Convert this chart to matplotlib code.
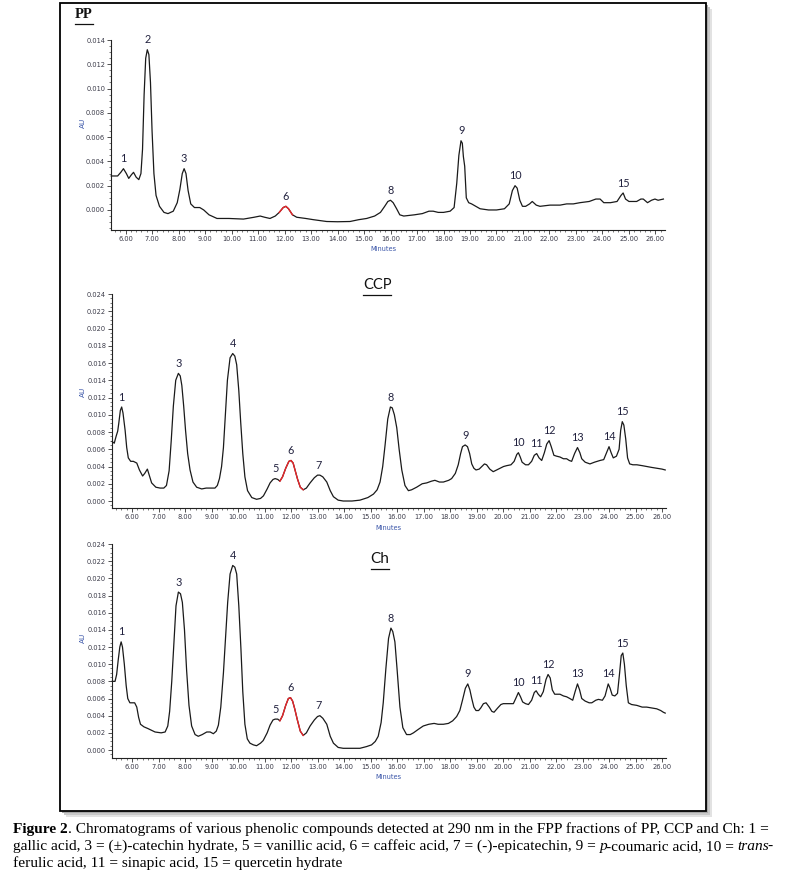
import matplotlib
matplotlib.use("Agg")
import matplotlib.pyplot as plt
import numpy as np
from matplotlib.patches import Rectangle
from matplotlib.lines import Line2D
from matplotlib.ticker import MultipleLocator, FormatStrFormatter

# ---------------- data ----------------
pp_time = [5.46, 5.70, 5.82, 5.92, 6.03, 6.12, 6.22, 6.30, 6.40, 6.50, 6.58, 6.64, 6.70, 6.76,
           6.82, 6.88, 6.94, 7.00, 7.07, 7.15, 7.28, 7.45, 7.60, 7.80, 7.95, 8.05, 8.14, 8.21,
           8.28, 8.36, 8.46, 8.60, 8.80, 8.95, 9.15, 9.45, 9.90, 10.45, 10.85, 11.08, 11.25,
           11.45, 11.65, 11.80, 11.95, 12.05, 12.15, 12.30, 12.46, 12.80, 13.09, 13.59, 14.00,
           14.47, 14.80, 15.10, 15.40, 15.62, 15.78, 15.90, 16.00, 16.10, 16.23, 16.35, 16.50,
           16.90, 17.20, 17.45, 17.61, 17.80, 18.00, 18.25, 18.40, 18.50, 18.58, 18.66, 18.71,
           18.75, 18.80, 18.86, 18.95, 19.06, 19.38, 19.70, 20.00, 20.30, 20.48, 20.60, 20.70,
           20.78, 20.88, 20.98, 21.10, 21.25, 21.35, 21.50, 21.64, 22.02, 22.40, 22.65, 22.90,
           23.15, 23.50, 23.75, 23.91, 24.05, 24.30, 24.55, 24.70, 24.78, 24.87, 25.00, 25.29,
           25.45, 25.54, 25.70, 25.85, 25.98, 26.10, 26.30]
pp_au = [0.0028, 0.0028, 0.0031, 0.0034, 0.0030, 0.0026, 0.0029, 0.0031, 0.0027, 0.0025, 0.0030,
         0.0050, 0.0095, 0.0125, 0.0132, 0.0128, 0.0105, 0.0065, 0.0030, 0.0012, 0.0003, -0.0002,
         -0.0003, -0.0001, 0.0006, 0.0017, 0.0030, 0.0034, 0.0030, 0.0016, 0.0005, 0.0002, 0.0002,
         0.0000, -0.0004, -0.0007, -0.0007, -0.00075, -0.0006, -0.0005, -0.0006, -0.0007, -0.0005,
         -0.0002, 0.0002, 0.0003, 0.0001, -0.0004, -0.0006, -0.0007, -0.0008, -0.00095, -0.00097,
         -0.00095, -0.0008, -0.0007, -0.0005, -0.0002, 0.0003, 0.0007, 0.0008, 0.0006, 0.0001,
         -0.0004, -0.0005, -0.0004, -0.0003, -0.0001, -0.0001, -0.0002, -0.0002, -0.0001, 0.0002,
         0.0022, 0.0045, 0.0057, 0.0055, 0.0044, 0.0036, 0.0010, 0.0006, 0.0005, 0.0001, 0.0000,
         0.0000, 0.0001, 0.0005, 0.0016, 0.0020, 0.0018, 0.0008, 0.0003, 0.0003, 0.0005, 0.0007,
         0.0004, 0.0003, 0.0004, 0.0004, 0.0005, 0.0005, 0.0006, 0.0007, 0.0009, 0.0009, 0.0006,
         0.0006, 0.0007, 0.0012, 0.0014, 0.0009, 0.0007, 0.0007, 0.0009, 0.0009, 0.0006, 0.0008,
         0.0009, 0.0008, 0.0009]

ccp_time = [5.25, 5.33, 5.40, 5.46, 5.50, 5.56, 5.61, 5.66, 5.74, 5.80, 5.86, 5.95, 6.05, 6.18,
            6.28, 6.40, 6.48, 6.58, 6.66, 6.74, 6.90, 7.06, 7.20, 7.30, 7.40, 7.48, 7.56, 7.65,
            7.75, 7.82, 7.88, 7.95, 8.02, 8.10, 8.19, 8.30, 8.44, 8.63, 8.80, 9.00, 9.13, 9.22,
            9.30, 9.38, 9.45, 9.52, 9.60, 9.70, 9.80, 9.88, 9.95, 10.03, 10.10, 10.18, 10.26,
            10.36, 10.52, 10.70, 10.85, 10.96, 11.10, 11.21, 11.32, 11.40, 11.50, 11.58, 11.68,
            11.80, 11.92, 12.00, 12.08, 12.15, 12.25, 12.35, 12.46, 12.58, 12.72, 12.88, 13.00,
            13.09, 13.20, 13.35, 13.48, 13.60, 13.78, 13.97, 14.30, 14.60, 14.90, 15.11, 15.25,
            15.36, 15.46, 15.55, 15.65, 15.75, 15.82, 15.90, 15.99, 16.08, 16.18, 16.30, 16.43,
            16.55, 16.74, 16.95, 17.12, 17.30, 17.43, 17.60, 17.75, 17.95, 18.06, 18.20, 18.31,
            18.40, 18.47, 18.57, 18.66, 18.74, 18.82, 18.90, 18.98, 19.10, 19.20, 19.30, 19.38,
            19.50, 19.63, 19.76, 19.89, 20.02, 20.14, 20.30, 20.42, 20.52, 20.58, 20.65, 20.72,
            20.85, 20.96, 21.08, 21.18, 21.27, 21.36, 21.46, 21.56, 21.65, 21.74, 21.82, 21.92,
            22.02, 22.15, 22.28, 22.40, 22.50, 22.59, 22.70, 22.81, 22.90, 22.97, 23.10, 23.28,
            23.45, 23.66, 23.80, 23.88, 24.00, 24.08, 24.16, 24.28, 24.38, 24.44, 24.50, 24.56,
            24.63, 24.70, 24.78, 24.90, 25.05, 25.25, 25.42, 25.60, 25.80, 26.00, 26.12]
ccp_au = [0.0069, 0.0067, 0.0075, 0.0081, 0.0090, 0.0105, 0.0109, 0.0102, 0.0082, 0.0062, 0.0050,
          0.0046, 0.0046, 0.0044, 0.0036, 0.0029, 0.0032, 0.0037, 0.0029, 0.0021, 0.0016, 0.0015,
          0.0015, 0.0018, 0.0035, 0.0070, 0.0110, 0.0140, 0.0148, 0.0145, 0.0134, 0.0110, 0.0082,
          0.0055, 0.0036, 0.0022, 0.0016, 0.0014, 0.0015, 0.0015, 0.0015, 0.0018, 0.0026, 0.0040,
          0.0062, 0.0098, 0.0140, 0.0166, 0.0171, 0.0168, 0.0158, 0.0128, 0.0092, 0.0055, 0.0028,
          0.0012, 0.0004, 0.0002, 0.0003, 0.0006, 0.0014, 0.0021, 0.0025, 0.0026, 0.0025, 0.0023,
          0.0028, 0.0038, 0.0046, 0.0047, 0.0044, 0.0036, 0.0025, 0.0016, 0.0013, 0.0015, 0.0021,
          0.0027, 0.0030, 0.0030, 0.0028, 0.0022, 0.0012, 0.0005, 0.0001, 0.0000, 0.0000, 0.0001,
          0.0004, 0.0008, 0.0013, 0.0022, 0.0040, 0.0065, 0.0095, 0.0109, 0.0108, 0.0100, 0.0085,
          0.0060, 0.0036, 0.0018, 0.0012, 0.0013, 0.0016, 0.0020, 0.0021, 0.0023, 0.0024, 0.0022,
          0.0022, 0.0024, 0.0026, 0.0032, 0.0042, 0.0055, 0.0063, 0.0065, 0.0063, 0.0055, 0.0043,
          0.0038, 0.0036, 0.0037, 0.0040, 0.0043, 0.0042, 0.0037, 0.0034, 0.0036, 0.0038, 0.0040,
          0.0041, 0.0042, 0.0046, 0.0054, 0.0056, 0.0051, 0.0045, 0.0042, 0.0042, 0.0046, 0.0053,
          0.0055, 0.0050, 0.0047, 0.0056, 0.0066, 0.0070, 0.0063, 0.0053, 0.0052, 0.0051, 0.0049,
          0.0049, 0.0047, 0.0046, 0.0055, 0.0062, 0.0056, 0.0049, 0.0045, 0.0043, 0.0045, 0.0047,
          0.0048, 0.0054, 0.0063, 0.0056, 0.0050, 0.0052, 0.0060, 0.0082, 0.0092, 0.0088, 0.0072,
          0.0050, 0.0043, 0.0042, 0.0042, 0.0041, 0.0040, 0.0039, 0.0038, 0.0037, 0.0036]

ch_time = [5.25, 5.36, 5.42, 5.48, 5.54, 5.59, 5.64, 5.71, 5.78, 5.84, 5.92, 6.00, 6.10, 6.18,
           6.25, 6.32, 6.45, 6.60, 6.87, 7.10, 7.25, 7.35, 7.42, 7.50, 7.58, 7.66, 7.75, 7.83,
           7.90, 7.98, 8.06, 8.15, 8.25, 8.38, 8.50, 8.65, 8.82, 8.95, 9.07, 9.18, 9.26, 9.35,
           9.45, 9.53, 9.61, 9.70, 9.80, 9.88, 9.95, 10.03, 10.11, 10.18, 10.26, 10.35, 10.45,
           10.58, 10.70, 10.85, 10.95, 11.10, 11.21, 11.32, 11.40, 11.50, 11.58, 11.68, 11.80,
           11.90, 11.98, 12.06, 12.14, 12.24, 12.35, 12.46, 12.58, 12.72, 12.88, 13.00, 13.09,
           13.20, 13.35, 13.48, 13.60, 13.78, 13.97, 14.30, 14.60, 14.85, 15.04, 15.18, 15.29,
           15.40, 15.48, 15.58, 15.68, 15.77, 15.84, 15.92, 16.00, 16.11, 16.22, 16.36, 16.50,
           16.62, 16.80, 16.99, 17.20, 17.40, 17.55, 17.75, 17.94, 18.10, 18.25, 18.37, 18.47,
           18.58, 18.67, 18.75, 18.82, 18.90, 18.98, 19.08, 19.16, 19.26, 19.36, 19.48, 19.58,
           19.66, 19.80, 19.92, 20.01, 20.20, 20.39, 20.48, 20.58, 20.66, 20.74, 20.85, 20.96,
           21.08, 21.18, 21.25, 21.33, 21.42, 21.52, 21.62, 21.70, 21.78, 21.86, 21.95, 22.05,
           22.15, 22.28, 22.40, 22.52, 22.63, 22.72, 22.81, 22.89, 22.97, 23.10, 23.25, 23.35,
           23.50, 23.60, 23.75, 23.85, 23.97, 24.04, 24.12, 24.22, 24.32, 24.40, 24.46, 24.52,
           24.58, 24.65, 24.73, 24.85, 25.05, 25.25, 25.42, 25.60, 25.80, 25.95, 26.05, 26.12]
ch_au = [0.0080, 0.0080, 0.0088, 0.0105, 0.0120, 0.0126, 0.0120, 0.0100, 0.0075, 0.0060, 0.0055,
         0.0055, 0.0055, 0.0050, 0.0038, 0.0030, 0.0027, 0.0025, 0.0021, 0.0020, 0.0021, 0.0028,
         0.0045, 0.0080, 0.0125, 0.0168, 0.0184, 0.0182, 0.0172, 0.0140, 0.0093, 0.0052, 0.0028,
         0.0018, 0.0016, 0.0018, 0.0021, 0.0021, 0.0019, 0.0022, 0.0029, 0.0050, 0.0090, 0.0130,
         0.0172, 0.0205, 0.0215, 0.0213, 0.0205, 0.0168, 0.0118, 0.0068, 0.0030, 0.0013, 0.0008,
         0.0006, 0.0005, 0.0008, 0.0011, 0.0020, 0.0029, 0.0035, 0.0036, 0.0036, 0.0034, 0.0040,
         0.0052, 0.0060, 0.0061, 0.0057, 0.0048, 0.0035, 0.0022, 0.0017, 0.0020, 0.0028, 0.0035,
         0.0039, 0.0040, 0.0037, 0.0030, 0.0016, 0.0008, 0.0003, 0.0002, 0.0002, 0.0002, 0.0004,
         0.0006, 0.0010, 0.0016, 0.0032, 0.0055, 0.0095, 0.0130, 0.0142, 0.0138, 0.0126, 0.0095,
         0.0050, 0.0026, 0.0018, 0.0018, 0.0020, 0.0024, 0.0028, 0.0030, 0.0031, 0.0030, 0.0030,
         0.0031, 0.0034, 0.0039, 0.0046, 0.0058, 0.0072, 0.0077, 0.0070, 0.0060, 0.0050, 0.0046,
         0.0046, 0.0049, 0.0054, 0.0055, 0.0050, 0.0045, 0.0044, 0.0049, 0.0053, 0.0054, 0.0054,
         0.0054, 0.0060, 0.0067, 0.0062, 0.0056, 0.0054, 0.0053, 0.0058, 0.0067, 0.0069, 0.0065,
         0.0062, 0.0068, 0.0082, 0.0088, 0.0084, 0.0070, 0.0065, 0.0065, 0.0065, 0.0063, 0.0062,
         0.0060, 0.0058, 0.0068, 0.0077, 0.0070, 0.0060, 0.0057, 0.0055, 0.0055, 0.0058, 0.0059,
         0.0058, 0.0063, 0.0077, 0.0072, 0.0064, 0.0063, 0.0066, 0.0090, 0.0110, 0.0113, 0.0100,
         0.0075, 0.0055, 0.0053, 0.0052, 0.0050, 0.0050, 0.0049, 0.0048, 0.0046, 0.0044, 0.0043]

pp_peak_labels = ['1', '2', '3', '6', '8', '9', '10', '15']
pp_peak_times = [5.92, 6.82, 8.21, 12.05, 16.00, 18.68, 20.70, 24.78]
ccp_peak_labels = ['1', '3', '4', '5', '6', '7', '8', '9', '10', '11', '12', '13', '14', '15']
ccp_peak_times = [5.61, 7.75, 9.80, 11.40, 12.00, 13.05, 15.77, 18.57, 20.58, 21.27, 21.74,
                  22.81, 24.00, 24.50]
ch_peak_labels = ['1', '3', '4', '5', '6', '7', '8', '9', '10', '11', '12', '13', '14', '15']
ch_peak_times = [5.59, 7.77, 9.82, 11.40, 11.98, 13.05, 15.77, 18.67, 20.58, 21.25, 21.70,
                 22.81, 23.97, 24.52]
# retention-time window of caffeic acid (peak 6), drawn in red
pp_red = (11.75, 12.35)
ccp_red = (11.58, 12.46)
ch_red = (11.58, 12.46)

panel_titles = ['PP', 'CCP', 'Ch']
x_label = 'Minutes'
y_label = 'AU'

caption_lines = [
    [("Figure 2", "b"), (". Chromatograms of various phenolic compounds detected at 290 nm in the "
                         "FPP fractions of PP, CCP and Ch: 1 =", "n")],
    [("gallic acid, 3 = (\u00b1)-catechin hydrate, 5 = vanillic acid, 6 = caffeic acid, "
      "7 = (-)-epicatechin, 9 = ", "n"), ("p", "i"), ("-coumaric acid, 10 = ", "n"),
     ("trans", "i"), ("-", "n")],
    [("ferulic acid, 11 = sinapic acid, 15 = quercetin hydrate", "n")],
]

# ---------------- figure ----------------
W, H = 788, 875
fig = plt.figure(figsize=(W / 100, H / 100), dpi=100)
fig.patch.set_facecolor('white')


def fx(px):
    return px / W


def fy(py):
    return 1 - py / H


# frame with shadow
bx0, by0, bx1, by1 = 60, 3, 706, 811
for off, col in [(6, '#e2e2e2'), (4, '#c8c8c8'), (2, '#a8a8a8')]:
    fig.patches.append(Rectangle((fx(bx0 + off), fy(by1 + off)), (bx1 - bx0) / W, (by1 - by0) / H,
                                 transform=fig.transFigure, facecolor=col, edgecolor='none',
                                 zorder=-3))
fig.patches.append(Rectangle((fx(bx0), fy(by1)), (bx1 - bx0) / W, (by1 - by0) / H,
                             transform=fig.transFigure, facecolor='white', edgecolor='black',
                             linewidth=1.3, zorder=-2))

TRACE = '#1a1a1a'
RED = '#e8262a'
LBL = '#22223f'
TICKC = '#3a3a48'
BLUE = '#3a55a8'


def make_panel(rect_px, xlim, ylim, ytop, times, au, red, labels, ltimes):
    x0, y0, x1, y1 = rect_px
    ax = fig.add_axes([fx(x0), fy(y1), (x1 - x0) / W, (y1 - y0) / H])
    ax.set_facecolor('none')
    ax.set_xlim(*xlim)
    ax.set_ylim(ylim, ytop * 1.00001)
    for s in ['top', 'right']:
        ax.spines[s].set_visible(False)
    for s in ['left', 'bottom']:
        ax.spines[s].set_linewidth(0.8)
        ax.spines[s].set_color('#222222')
    ax.xaxis.set_major_locator(MultipleLocator(1))
    ax.xaxis.set_minor_locator(MultipleLocator(0.2))
    ax.yaxis.set_major_locator(MultipleLocator(0.002))
    ax.yaxis.set_minor_locator(MultipleLocator(0.0005))
    ax.xaxis.set_major_formatter(FormatStrFormatter('%.2f'))
    ax.yaxis.set_major_formatter(FormatStrFormatter('%.3f'))
    ax.tick_params(axis='both', which='major', length=2.6, width=0.6, labelsize=4.8,
                   colors='#333333', labelcolor=TICKC, pad=1.6, direction='out')
    ax.tick_params(axis='both', which='minor', length=1.4, width=0.5, colors='#444444',
                   direction='out')
    t = np.asarray(times)
    v = np.asarray(au)
    ax.plot(t, v, color=TRACE, lw=0.9, clip_on=False, zorder=3)
    m = (t >= red[0] - 1e-9) & (t <= red[1] + 1e-9)
    ax.plot(t[m], v[m], color=RED, lw=1.0, clip_on=False, zorder=4)
    for lab, lt in zip(labels, ltimes):
        w = (t >= lt - 0.12) & (t <= lt + 0.12)
        k = np.argmax(np.where(w, v, -1))
        ax.annotate(lab, xy=(lt, v[k]), xytext=(0, 3.2), textcoords='offset points',
                    ha='center', va='bottom', fontsize=7.8, color=LBL,
                    family=['Lato', 'DejaVu Sans'], annotation_clip=False)
    return ax


ax_pp = make_panel((111, 40, 665, 230), (5.45, 26.36), -0.00165, 0.014,
                   pp_time, pp_au, pp_red, pp_peak_labels, pp_peak_times)
ax_ccp = make_panel((112, 294, 666, 508), (5.245, 26.15), -0.00081, 0.024,
                    ccp_time, ccp_au, ccp_red, ccp_peak_labels, ccp_peak_times)
ax_ch = make_panel((112, 544, 666, 758), (5.245, 26.15), -0.00093, 0.024,
                   ch_time, ch_au, ch_red, ch_peak_labels, ch_peak_times)

# axis labels
for (xl, yl), (ax_, ay_) in zip([(383, 249), (388, 528), (388, 777)],
                                [(83, 123), (83, 392), (83, 638)]):
    fig.text(fx(xl), fy(yl), x_label, fontsize=4.8, color=BLUE, ha='center', va='center')
    fig.text(fx(ax_), fy(ay_), y_label, fontsize=5.2, color=BLUE, ha='center', va='center',
             rotation=90)

renderer = fig.canvas.get_renderer()


def underline(txt, y_px, lw=0.9):
    bb = txt.get_window_extent(renderer)
    fig.add_artist(Line2D([bb.x0 / W, bb.x1 / W], [fy(y_px), fy(y_px)],
                          transform=fig.transFigure, color='#111111', lw=lw))


t_pp = fig.text(fx(75), fy(15), panel_titles[0], family='Liberation Serif', fontweight='bold',
                fontsize=10.5, ha='left', va='center', color='#111111')
underline(t_pp, 23.5)
t_ccp = fig.text(fx(377), fy(285), panel_titles[1], family=['Lato', 'DejaVu Sans'],
                 fontsize=10.5, ha='center', va='center', color='#111111')
underline(t_ccp, 294.5)
t_ch = fig.text(fx(380), fy(559), panel_titles[2], family=['Lato', 'DejaVu Sans'],
                fontsize=11, ha='center', va='center', color='#111111')
underline(t_ch, 568.5)


# ---------------- caption: whole-string pieces, style changes only at boundaries ----------------
def style_kw(st, fs):
    kw = dict(fontsize=fs, family='Liberation Serif', va='baseline', ha='left', color='black')
    if st == 'b':
        kw['fontweight'] = 'bold'
    if st == 'i':
        kw['fontstyle'] = 'italic'
    return kw


def measure(s, st, fs):
    # advance width, robust to leading/trailing spaces
    a = fig.text(0, 0, '|' + s + '|', **style_kw(st, fs))
    b = fig.text(0, 0, '||', **style_kw(st, fs))
    w = a.get_window_extent(renderer).width - b.get_window_extent(renderer).width
    a.remove()
    b.remove()
    if st == 'i':
        w -= 1.5
    return w


def line_width(line, fs):
    return sum(measure(s, st, fs) for s, st in line)


cap_x0, cap_x1 = 13, 770
target = cap_x1 - cap_x0
fs1 = 10.0 * target / line_width(caption_lines[0], 10.0)
fs2 = 10.0 * target / line_width(caption_lines[1], 10.0)
if abs(fs2 - fs1) / fs1 > 0.06:
    fs2 = fs1
sizes = [fs1, fs2, fs1]

baselines = [833, 850, 867]
for li, line in enumerate(caption_lines):
    x = cap_x0
    for s, st in line:
        fig.text(fx(x), fy(baselines[li]), s, **style_kw(st, sizes[li]))
        x += measure(s, st, sizes[li])

fig.savefig('out.png', dpi=100)
